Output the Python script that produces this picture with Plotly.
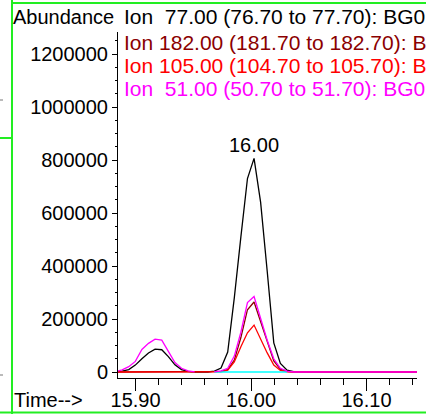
import plotly.graph_objects as go

# ---- data ----
times = [15.8827, 15.8884, 15.8941, 15.8998, 15.9055, 15.9112, 15.9169, 15.9227,
         15.9284, 15.9341, 15.9398, 15.9455, 15.9512, 15.9569, 15.9626, 15.9683,
         15.9740, 15.9798, 15.9855, 15.9912, 15.9969, 16.0026, 16.0083, 16.0140,
         16.0197, 16.0254, 16.0312, 16.0369, 16.0426, 16.0483, 16.0540, 16.0597,
         16.0654, 16.0711, 16.0768, 16.0825, 16.0882, 16.0940, 16.0997, 16.1054,
         16.1111, 16.1168, 16.1225, 16.1282, 16.1339, 16.1397, 16.1454]

ion77 = [1000, 3000, 9000, 26000, 50000, 72000, 86000, 84000,
         58000, 27000, 9000, 2000, 0, 0, 0, 3000,
         15000, 75000, 280000, 510000, 730000, 806000, 640000, 380000,
         110000, 32000, 7000, 1500, 0, 0, 0, 0,
         0, 0, 0, 0, 0, 0, 0, 0,
         0, 0, 0, 0, 0, 0, 0]
ion182 = [0, 0, 0, 0, 0, 0, 0, 0,
          0, 0, 0, 0, 0, 0, 0, 0,
          2000, 9000, 45000, 130000, 235000, 264000, 190000, 108000,
          42000, 11000, 2000, 0, 0, 0, 0, 0,
          0, 0, 0, 0, 0, 0, 0, 0,
          0, 0, 0, 0, 0, 0, 0]
ion105 = [0, 0, 0, 0, 0, 0, 0, 0,
          0, 0, 0, 0, 0, 0, 0, 0,
          1000, 7000, 38000, 95000, 148000, 177000, 122000, 72000,
          26000, 6000, 1000, 0, 0, 0, 0, 0,
          0, 0, 0, 0, 0, 0, 0, 0,
          0, 0, 0, 0, 0, 0, 0]
ion51 = [2000, 8000, 20000, 40000, 85000, 108000, 124000, 120000,
         78000, 36000, 14000, 4000, 500, None, None, 1000,
         4000, 14000, 60000, 150000, 262000, 285000, 205000, 120000,
         50000, 14000, 3000, 0, 0, 0, 0, 0,
         0, 0, 0, 0, 0, 0, 0, 0,
         0, 0, 0, 0, 0, 0, 0]
blank_times = [15.9683, 15.9740, 15.9798, 15.9855, 15.9912, 15.9969, 16.0026,
               16.0083, 16.0140, 16.0197, 16.0254, 16.0312]
blank_vals = [0, 0, 0, 0, 0, 0, 0, 0, 0, 0, 0, 0]

ion_labels = ["Ion\u00a0\u00a077.00 (76.70 to 77.70): BG01.D\\data.ms",
              "Ion 182.00 (181.70 to 182.70): BG01.D\\data.ms",
              "Ion 105.00 (104.70 to 105.70): BG01.D\\data.ms",
              "Ion\u00a0\u00a051.00 (50.70 to 51.70): BG01.D\\data.ms"]
ion_colors = ["#000000", "#8b0000", "#ff0000", "#ff00ff"]
peak_label = "16.00"
peak_time = 16.0026
peak_val = 806000

# ---- layout geometry ----
W, H = 426, 415
L, R, T, B = 118, 9, 32, 37
PW, PH = W - L - R, H - T - B
FONT = "Liberation Sans, Arial, sans-serif"

def px(x):
    return (x - L) / PW

def py(y):
    return (H - B - y) / PH

fig = go.Figure()
fig.add_trace(go.Scatter(x=times, y=ion77, mode="lines",
                         line=dict(color=ion_colors[0], width=1.3)))
fig.add_trace(go.Scatter(x=times, y=ion182, mode="lines",
                         line=dict(color=ion_colors[1], width=1.3)))
fig.add_trace(go.Scatter(x=times, y=ion105, mode="lines",
                         line=dict(color=ion_colors[2], width=1.3)))
fig.add_trace(go.Scatter(x=blank_times, y=blank_vals, mode="lines",
                         line=dict(color="#00ffff", width=1.3)))
fig.add_trace(go.Scatter(x=times, y=ion51, mode="lines", connectgaps=False,
                         line=dict(color=ion_colors[3], width=1.3)))

annotations = []
annotations.append(dict(x=peak_time, y=peak_val, xref="x", yref="y",
                        text=peak_label, showarrow=False, yanchor="bottom",
                        yshift=0, font=dict(size=20, color="black", family=FONT)))
annotations.append(dict(x=px(11), y=py(17), xref="paper", yref="paper",
                        text="Abundance", showarrow=False, xanchor="left",
                        yanchor="middle",
                        font=dict(size=20, color="black", family=FONT)))
annotations.append(dict(x=px(12), y=py(400), xref="paper", yref="paper",
                        text="Time-->", showarrow=False, xanchor="left",
                        yanchor="middle",
                        font=dict(size=20, color="black", family=FONT)))
for lab, col, yy in zip(ion_labels, ion_colors, [17, 42, 65, 88]):
    annotations.append(dict(x=px(122), y=py(yy), xref="paper", yref="paper",
                            text=lab, showarrow=False, xanchor="left",
                            yanchor="middle",
                            font=dict(size=21, color=col, family=FONT)))

green = "#22ee22"
shapes = [
    dict(type="line", xref="paper", yref="paper", x0=px(12), x1=px(12),
         y0=py(0), y1=py(414), line=dict(color=green, width=2)),
    dict(type="line", xref="paper", yref="paper", x0=px(12), x1=px(430),
         y0=py(3), y1=py(3), line=dict(color=green, width=2)),
    dict(type="line", xref="paper", yref="paper", x0=px(0), x1=px(430),
         y0=py(412.5), y1=py(412.5), line=dict(color=green, width=2)),
    dict(type="line", xref="paper", yref="paper", x0=px(0), x1=px(12),
         y0=py(138), y1=py(138), line=dict(color=green, width=2)),
    dict(type="line", xref="paper", yref="paper", x0=px(0), x1=px(3),
         y0=py(100), y1=py(100), line=dict(color="#777777", width=1)),
    dict(type="line", xref="paper", yref="paper", x0=px(0), x1=px(3),
         y0=py(375), y1=py(375), line=dict(color="#777777", width=1)),
]

fig.update_layout(
    width=W, height=H,
    margin=dict(l=L, r=R, t=T, b=B, pad=0, autoexpand=False),
    paper_bgcolor="white", plot_bgcolor="white",
    showlegend=False,
    annotations=annotations,
    shapes=shapes,
    font=dict(family=FONT, size=20, color="black"),
    xaxis=dict(range=[15.8848, 16.1437], tick0=15.9, dtick=0.1,
               tickformat=".2f", showgrid=False, zeroline=False,
               showline=True, linecolor="black", linewidth=1,
               automargin=False,
               ticks="outside", ticklen=12, tickcolor="black", tickwidth=1,
               tickfont=dict(size=20, family=FONT, color="black"),
               minor=dict(dtick=0.02, tick0=15.9, ticks="outside", ticklen=6,
                          tickcolor="black", tickwidth=1, showgrid=False)),
    yaxis=dict(range=[-22640, 1283000], tick0=0, dtick=200000,
               tickformat="d", showgrid=False, zeroline=False,
               showline=True, linecolor="black", linewidth=1,
               automargin=False,
               ticks="outside", ticklen=5, tickcolor="black", tickwidth=1,
               tickfont=dict(size=20, family=FONT, color="black"),
               minor=dict(dtick=50000, tick0=0, ticks="outside", ticklen=2,
                          tickcolor="black", tickwidth=1, showgrid=False)),
)

try:
    fig.update_xaxes(ticklabelstandoff=-8)
except Exception:
    pass

fig.write_html("out.html", config={"displayModeBar": False},
               post_script="document.body.style.margin='0';"
                           "document.body.style.overflow='hidden';")
